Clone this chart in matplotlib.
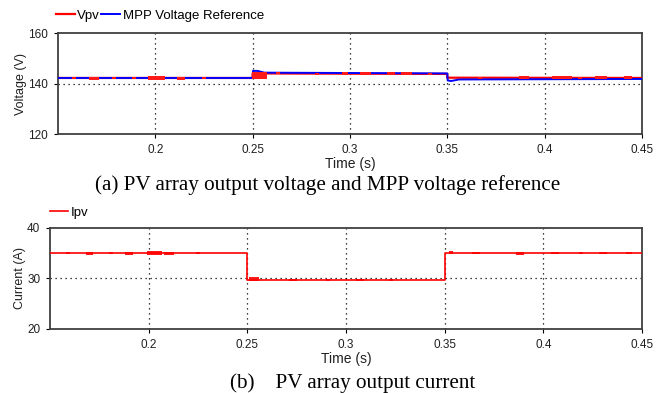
import matplotlib
matplotlib.use("Agg")
import matplotlib.pyplot as plt
import matplotlib.ticker as ticker

plt.rcParams['font.family'] = ['Liberation Sans', 'DejaVu Sans']

# Step levels of each trace: (time, value) breakpoints
vpv_t = [0.15, 0.25, 0.25, 0.35, 0.35, 0.45]
vpv_v = [142.2, 142.2, 144.0, 143.8, 142.3, 142.2]

vref_t = [0.15, 0.25, 0.2502, 0.2525, 0.256, 0.35, 0.3502, 0.352, 0.356, 0.45]
vref_v = [142.2, 142.2, 145.0, 145.0, 144.3, 144.0, 141.2, 141.0, 141.6, 141.8]

ipv_t = [0.15, 0.25, 0.25, 0.35, 0.35, 0.45]
ipv_v = [35.0, 35.0, 29.7, 29.7, 35.0, 35.0]

# Ripple bursts on the measured traces: start, end, centre, half-height
vpv_ripple_t0 = [0.157, 0.166, 0.178, 0.188, 0.196, 0.211, 0.224, 0.2495, 0.262, 0.282,
                 0.296, 0.305, 0.319, 0.326, 0.340, 0.366, 0.387, 0.404, 0.417, 0.426, 0.441]
vpv_ripple_t1 = [0.159, 0.171, 0.180, 0.190, 0.205, 0.215, 0.226, 0.2575, 0.264, 0.284,
                 0.299, 0.311, 0.323, 0.332, 0.342, 0.368, 0.392, 0.414, 0.419, 0.432, 0.445]
vpv_ripple_c = [142.1, 142.0, 142.3, 142.1, 142.0, 142.0, 142.2, 143.3, 144.0, 143.9,
                144.0, 143.9, 143.9, 143.9, 143.8, 142.3, 142.4, 142.3, 142.3, 142.4, 142.3]
vpv_ripple_h = [0.4, 0.7, 0.4, 0.4, 0.8, 0.7, 0.4, 1.4, 0.4, 0.4,
                0.5, 0.7, 0.6, 0.6, 0.4, 0.4, 0.6, 0.6, 0.4, 0.5, 0.5]

ipv_ripple_t0 = [0.158, 0.168, 0.180, 0.188, 0.199, 0.208, 0.224, 0.251, 0.271, 0.290,
                 0.305, 0.322, 0.352, 0.364, 0.386, 0.404, 0.418, 0.428, 0.442]
ipv_ripple_t1 = [0.160, 0.172, 0.182, 0.192, 0.207, 0.213, 0.226, 0.256, 0.275, 0.292,
                 0.309, 0.324, 0.354, 0.368, 0.390, 0.408, 0.420, 0.432, 0.445]
ipv_ripple_c = [35.0, 35.0, 35.1, 35.0, 35.0, 35.0, 35.0, 29.8, 29.7, 29.7,
                29.7, 29.7, 35.2, 35.0, 35.0, 35.0, 35.0, 35.0, 35.0]
ipv_ripple_h = [0.2, 0.3, 0.2, 0.3, 0.35, 0.3, 0.2, 0.4, 0.25, 0.2,
                0.25, 0.2, 0.3, 0.25, 0.3, 0.25, 0.2, 0.25, 0.2]

x_ticks = [0.2, 0.25, 0.3, 0.35, 0.4, 0.45]
x_labels = ['0.2', '0.25', '0.3', '0.35', '0.4', '0.45']

fig = plt.figure(figsize=(6.72, 3.93), dpi=100)
ax1 = fig.add_axes([0.0863, 0.659, 0.869, 0.257])
ax2 = fig.add_axes([0.0744, 0.163, 0.881, 0.257])

frame_col = '#404040'
serif = ['Liberation Serif', 'DejaVu Serif']


def style_axis(ax, ylim, yticks, ylabel):
    ax.set_xlim(0.15, 0.45)
    ax.set_ylim(*ylim)
    ax.set_xticks(x_ticks)
    ax.set_xticklabels(x_labels)
    ax.set_yticks(yticks)
    ax.yaxis.set_major_formatter(ticker.FormatStrFormatter('%d'))
    ax.tick_params(labelsize=8.5, length=3, width=0.8, color='black', pad=4,
                   labelcolor='#202020')
    for s in ax.spines.values():
        s.set_color(frame_col)
        s.set_linewidth(1.3)
    # dotted grid at the inner ticks only
    for t in x_ticks[:-1]:
        ax.axvline(t, color='black', linestyle=(0, (1, 3)), linewidth=0.9, zorder=1)
    ax.axhline(yticks[1], color='black', linestyle=(0, (1, 3)), linewidth=0.9, zorder=1)
    ax.set_xlabel('Time (s)', fontsize=10, labelpad=1, color='#202020')
    ax.set_ylabel(ylabel, fontsize=9, labelpad=1, color='#202020')


def draw_ripple(ax, t0, t1, c, h, color, z):
    for a, b, m, w in zip(t0, t1, c, h):
        ax.fill_between([a, b], [m - w, m - w], [m + w, m + w], color=color,
                        linewidth=0, zorder=z)


# Voltage panel
style_axis(ax1, (120, 160), [120, 140, 160], 'Voltage (V)')
ax1.plot(vpv_t, vpv_v, color='#ff0000', linewidth=1.6, label='Vpv', zorder=3)
ax1.plot(vref_t, vref_v, color='#0000ff', linewidth=1.4, label='MPP Voltage Reference', zorder=4)
draw_ripple(ax1, vpv_ripple_t0, vpv_ripple_t1, vpv_ripple_c, vpv_ripple_h, '#ff1a1a', 5)
ax1.legend(loc='lower left', bbox_to_anchor=(-0.003, 1.11), ncol=2, frameon=False,
           fontsize=9.5, handlelength=1.4, handletextpad=0.2, columnspacing=0.1,
           borderaxespad=0, borderpad=0)

# Current panel
style_axis(ax2, (20, 40), [20, 30, 40], 'Current (A)')
draw_ripple(ax2, ipv_ripple_t0, ipv_ripple_t1, ipv_ripple_c, ipv_ripple_h, '#ff1a1a', 2)
ax2.plot(ipv_t, ipv_v, color='#ff0000', linewidth=1.2, label='Ipv', zorder=3)
ax2.legend(loc='lower left', bbox_to_anchor=(0.0, 1.09), ncol=1, frameon=False,
           fontsize=9.5, handlelength=1.4, handletextpad=0.2,
           borderaxespad=0, borderpad=0)

fig.text(0.488, 0.528, '(a) PV array output voltage and MPP voltage reference',
         family=serif, fontsize=15.2, ha='center', va='center')
fig.text(0.524, 0.026, '(b)    PV array output current',
         family=serif, fontsize=15.2, ha='center', va='center')

fig.savefig('out.png', dpi=100)
